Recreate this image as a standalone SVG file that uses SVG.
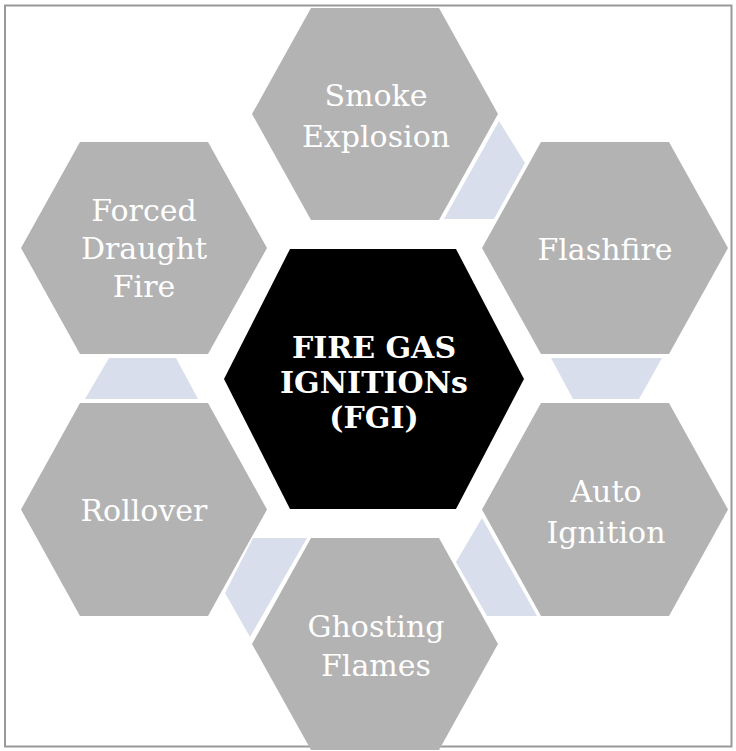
<svg xmlns="http://www.w3.org/2000/svg" width="736" height="751" viewBox="0 0 736 751">
<style>
.hex{fill:#b3b3b3}
.conn{fill:#d9deec}
.lbl{font-family:"DejaVu Serif","Liberation Serif",serif;font-size:30px;fill:#ffffff;text-anchor:middle}
.ctr{font-family:"DejaVu Serif","Liberation Serif",serif;font-weight:bold;font-size:30px;fill:#ffffff;text-anchor:middle}
</style>
<rect x="0" y="0" width="736" height="751" fill="#ffffff"/>
<rect x="5" y="5.5" width="726.5" height="741" fill="none" stroke="#999999" stroke-width="2"/>
<g id="connectors">
<polygon class="conn" points="499,121 525,163 494,219 444,219"/>
<polygon class="conn" points="551,358 662,358 639,399 573,399"/>
<polygon class="conn" points="482,518 456,562 487,616 537,616"/>
<polygon class="conn" points="253,538 307,538 250,637 225,593"/>
<polygon class="conn" points="109,358 176,358 198,399 85,399"/>
</g>
<g id="center">
<polygon fill="#000000" points="224,379 290,249 456,249 524,379 456,509 290,509"/>
<text class="ctr" x="374" y="358">FIRE GAS</text>
<text class="ctr" x="374" y="393">IGNITIONs</text>
<text class="ctr" x="374" y="428">(FGI)</text>
</g>
<g id="smoke-explosion">
<polygon class="hex" points="252,114 311,8 439,8 498,114 439,220 311,220"/>
<text class="lbl" x="376" y="106">Smoke</text>
<text class="lbl" x="376" y="147">Explosion</text>
</g>
<g id="flashfire">
<polygon class="hex" points="482,248 541,142 669,142 728,248 669,354 541,354"/>
<text class="lbl" x="605" y="260">Flashfire</text>
</g>
<g id="auto-ignition">
<polygon class="hex" points="482,509.5 541,403 669,403 728,509.5 669,616 541,616"/>
<text class="lbl" x="606" y="502">Auto</text>
<text class="lbl" x="606" y="543">Ignition</text>
</g>
<g id="ghosting-flames">
<polygon class="hex" points="252,644 311,538 439,538 498,644 439,750 311,750"/>
<text class="lbl" x="376" y="637">Ghosting</text>
<text class="lbl" x="376" y="676">Flames</text>
</g>
<g id="rollover">
<polygon class="hex" points="21,509.5 80,403 208,403 267,509.5 208,616 80,616"/>
<text class="lbl" x="144" y="521">Rollover</text>
</g>
<g id="forced-draught-fire">
<polygon class="hex" points="21,248 80,142 208,142 267,248 208,354 80,354"/>
<text class="lbl" x="144" y="221">Forced</text>
<text class="lbl" x="144" y="259">Draught</text>
<text class="lbl" x="144" y="297">Fire</text>
</g>
</svg>
